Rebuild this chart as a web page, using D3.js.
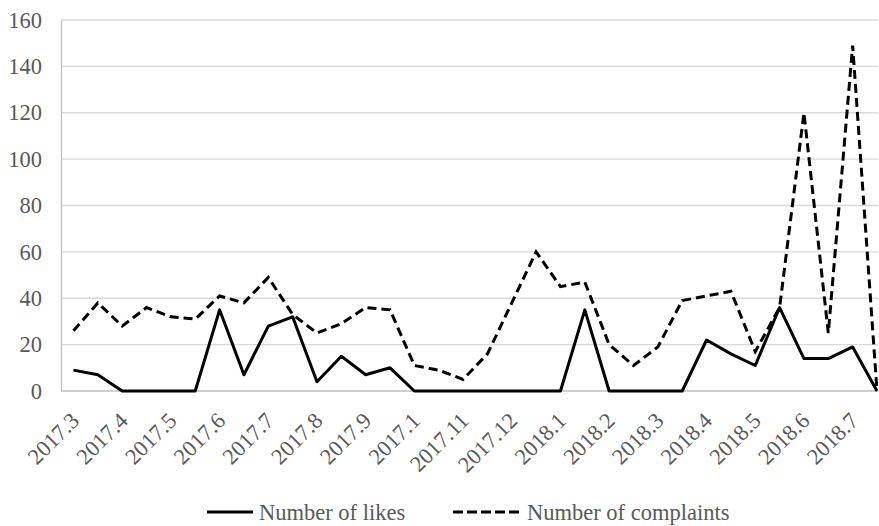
<!DOCTYPE html>
<html>
<head>
<meta charset="utf-8">
<script src="https://cdn.jsdelivr.net/npm/d3@7"></script>
<style>
  body { margin: 0; background: #fff; }
  svg { display: block; }
</style>
</head>
<body>
<div id="container"></div>
<script>
// two points per month, labels on every other point
let monthLabels = ["2017.3", "2017.4", "2017.5", "2017.6", "2017.7", "2017.8", "2017.9", "2017.1",
  "2017.11", "2017.12", "2018.1", "2018.2", "2018.3", "2018.4", "2018.5", "2018.6", "2018.7"];

let likes = [9, 7, 0, 0, 0, 0, 35, 7, 28, 32, 4, 15, 7, 10, 0, 0, 0, 0, 0, 0, 0, 35,
  0, 0, 0, 0, 22, 16, 11, 36, 14, 14, 19, 0];

let complaints = [26, 38, 28, 36, 32, 31, 41, 38, 49, 33, 25, 29, 36, 35, 11, 9, 5, 16, 38, 60, 45, 47,
  20, 11, 19, 39, 41, 43, 17, 36, 120, 25, 149, 0];

let yTicks = [0, 20, 40, 60, 80, 100, 120, 140, 160];

let w = 879;
let h = 526;
let plotLeft = 61;
let plotRight = 878;
let plotTop = 20;
let plotBottom = 391;

let fontFamily = "'Liberation Serif', 'Times New Roman', serif";
let fontSize = "22.5px";
let textColor = "#595959";

let viz = d3.select("#container")
  .append("svg")
    .attr("width", w)
    .attr("height", h)
;

let idx = d3.range(likes.length);
let xScale = d3.scalePoint().domain(idx).range([73.5, 877]);
let yScale = d3.scaleLinear().domain([0, 160]).range([plotBottom, plotTop]);

// gridlines
viz.append("g").selectAll("line").data(yTicks.filter(d => d > 0)).enter()
  .append("line")
    .attr("x1", plotLeft)
    .attr("x2", plotRight)
    .attr("y1", d => yScale(d))
    .attr("y2", d => yScale(d))
    .attr("stroke", "#d9d9d9")
    .attr("stroke-width", 1.3)
;

// y axis
let yAxis = d3.axisLeft(yScale).tickValues(yTicks).tickSize(0).tickPadding(19);
let yAxisGroup = viz.append("g")
    .attr("transform", "translate(" + plotLeft + ",0)")
    .call(yAxis)
;
yAxisGroup.select(".domain").attr("stroke", "#bfbfbf").attr("stroke-width", 1.3);
yAxisGroup.selectAll("text")
    .style("font-family", fontFamily)
    .style("font-size", fontSize)
    .attr("fill", textColor)
;

// x axis line
viz.append("line")
    .attr("x1", plotLeft)
    .attr("x2", plotRight)
    .attr("y1", plotBottom)
    .attr("y2", plotBottom)
    .attr("stroke", "#bfbfbf")
    .attr("stroke-width", 1.3)
;

// x labels, one per month
viz.append("g").selectAll("text").data(monthLabels).enter()
  .append("text")
    .attr("transform", function(d, i){
      let x = xScale(i * 2) + 7;
      let y = plotBottom + 31;
      return "translate(" + x + "," + y + ") rotate(-45)";
    })
    .attr("text-anchor", "end")
    .style("font-family", fontFamily)
    .style("font-size", fontSize)
    .attr("fill", textColor)
    .text(d => d)
;

let lineMaker = d3.line()
  .x(function(d, i){ return xScale(i); })
  .y(function(d){ return yScale(d); })
;

viz.append("path")
    .datum(complaints)
    .attr("d", lineMaker)
    .attr("fill", "none")
    .attr("stroke", "#000")
    .attr("stroke-width", 3)
    .attr("stroke-dasharray", "9,5")
;

viz.append("path")
    .datum(likes)
    .attr("d", lineMaker)
    .attr("fill", "none")
    .attr("stroke", "#000")
    .attr("stroke-width", 3)
    .attr("stroke-linejoin", "round")
;

// legend
let legendY = 512;
let legend = viz.append("g");
legend.append("line")
    .attr("x1", 207).attr("x2", 253)
    .attr("y1", legendY).attr("y2", legendY)
    .attr("stroke", "#000").attr("stroke-width", 3);
legend.append("text")
    .attr("x", 259).attr("y", legendY + 8)
    .style("font-family", fontFamily).style("font-size", fontSize)
    .attr("fill", textColor)
    .text("Number of likes");
legend.append("line")
    .attr("x1", 453).attr("x2", 522)
    .attr("y1", legendY).attr("y2", legendY)
    .attr("stroke", "#000").attr("stroke-width", 3)
    .attr("stroke-dasharray", "10,4");
legend.append("text")
    .attr("x", 527).attr("y", legendY + 8)
    .style("font-family", fontFamily).style("font-size", fontSize)
    .attr("fill", textColor)
    .text("Number of complaints");
</script>
</body>
</html>
